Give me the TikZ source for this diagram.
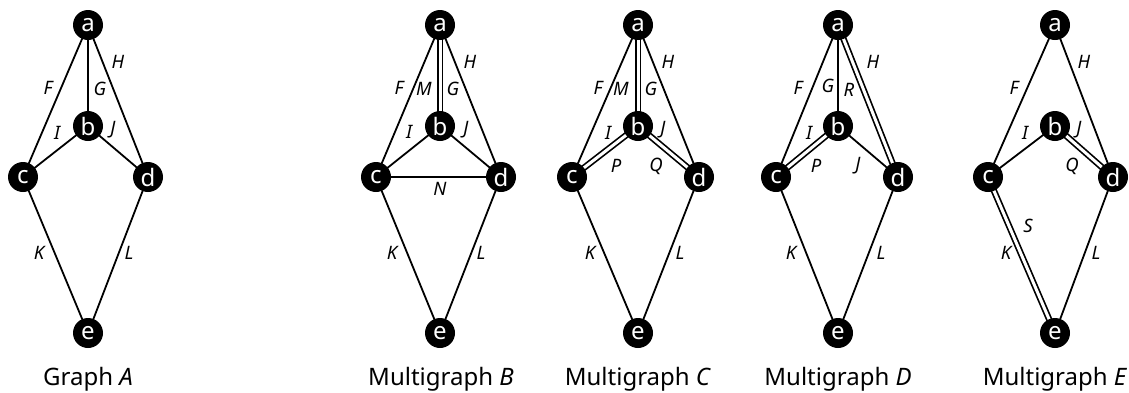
\documentclass[tikz,border=0pt]{standalone}
\usepackage{fontspec}
\setmainfont{Noto Sans}
\pgfdeclarelayer{bg}
\pgfsetlayers{bg,main}
\newcommand{\vnodes}[4]{%
  \begin{scope}[shift={(#2,0)}]
    \node[vtx] (a#1) at (0,25) {a};
    \node[vtx] (b#1) at (0,126) {b};
    \node[vtx] (c#1) at (#3,177) {c};
    \node[vtx] (d#1) at (#4,177) {d};
    \node[vtx] (e#1) at (0,333) {e};
  \end{scope}}
\begin{document}
\begin{tikzpicture}[x=1pt,y=-1pt,
  vtx/.style={circle, fill=black, text=white, minimum size=30pt, inner sep=0pt, font=\fontsize{24}{24}\selectfont},
  lbl/.style={font=\fontsize{18.5}{18.5}\selectfont\itshape, inner sep=0pt},
  captxt/.style={font=\fontsize{24}{24}\selectfont, inner sep=0pt, anchor=base},
  ln/.style={line width=1.8pt},
  dbl/.style={line width=1.7pt, double=white, double distance=3pt}]
\useasboundingbox (0,0) rectangle (1129,392);

% ---------- Graph A ----------
\vnodes{A}{88}{-65}{60}
\begin{pgfonlayer}{bg}
  \draw[ln] (aA.center) -- (cA.center);
  \draw[ln] (aA.center) -- (bA.center);
  \draw[ln] (aA.center) -- (dA.center);
  \draw[ln] (bA.center) -- (cA.center);
  \draw[ln] (bA.center) -- (dA.center);
  \draw[ln] (cA.center) -- (eA.center);
  \draw[ln] (dA.center) -- (eA.center);
\end{pgfonlayer}
\begin{scope}[shift={(88,0)}]
  \node[lbl] (FA) at (-40,88) {F};
  \node[lbl] (GA) at (12,89) {G};
  \node[lbl] (HA) at (30,62) {H};
  \node[lbl] (IA) at (-31,133) {I};
  \node[lbl] (JA) at (25,130) {J};
  \node[lbl] (KA) at (-49,253) {K};
  \node[lbl] (LA) at (41,253) {L};
  \node[captxt] (capA) at (0,385) {Graph \textit{A}};
\end{scope}

% ---------- Multigraph B ----------
\vnodes{B}{440}{-64}{61}
\begin{pgfonlayer}{bg}
  \draw[ln] (aB.center) -- (cB.center);
  \draw[dbl] (aB.center) -- (bB.center);
  \draw[ln] (aB.center) -- (dB.center);
  \draw[ln] (bB.center) -- (cB.center);
  \draw[ln] (bB.center) -- (dB.center);
  \draw[ln] (cB.center) -- (dB.center);
  \draw[ln] (cB.center) -- (eB.center);
  \draw[ln] (dB.center) -- (eB.center);
\end{pgfonlayer}
\begin{scope}[shift={(440,0)}]
  \node[lbl] (FB) at (-41,88) {F};
  \node[lbl] (MB) at (-16,89) {M};
  \node[lbl] (GB) at (13,89) {G};
  \node[lbl] (HB) at (30,62) {H};
  \node[lbl] (IB) at (-31,132) {I};
  \node[lbl] (JB) at (26,130) {J};
  \node[lbl] (NB) at (0,189) {N};
  \node[lbl] (KB) at (-48,253) {K};
  \node[lbl] (LB) at (41,253) {L};
  \node[captxt] (capB) at (1,385) {Multigraph \textit{B}};
\end{scope}

% ---------- Multigraph C ----------
\vnodes{C}{638}{-66}{61}
\begin{pgfonlayer}{bg}
  \draw[ln] (aC.center) -- (cC.center);
  \draw[dbl] (aC.center) -- (bC.center);
  \draw[ln] (aC.center) -- (dC.center);
  \draw[dbl] (bC.center) -- (cC.center);
  \draw[dbl] (bC.center) -- (dC.center);
  \draw[ln] (cC.center) -- (eC.center);
  \draw[ln] (dC.center) -- (eC.center);
\end{pgfonlayer}
\begin{scope}[shift={(638,0)}]
  \node[lbl] (FC) at (-40,88) {F};
  \node[lbl] (MC) at (-17,89) {M};
  \node[lbl] (GC) at (13,89) {G};
  \node[lbl] (HC) at (30,62) {H};
  \node[lbl] (IC) at (-30,133) {I};
  \node[lbl] (JC) at (25,130) {J};
  \node[lbl] (PC) at (-22,166) {P};
  \node[lbl] (QC) at (18,166) {Q};
  \node[lbl] (KC) at (-48,253) {K};
  \node[lbl] (LC) at (42,253) {L};
  \node[captxt] (capC) at (0,385) {Multigraph \textit{C}};
\end{scope}

% ---------- Multigraph D ----------
\vnodes{D}{838}{-62}{60}
\begin{pgfonlayer}{bg}
  \draw[ln] (aD.center) -- (cD.center);
  \draw[ln] (aD.center) -- (bD.center);
  \draw[dbl] (aD.center) -- (dD.center);
  \draw[dbl] (bD.center) -- (cD.center);
  \draw[ln] (bD.center) -- (dD.center);
  \draw[ln] (cD.center) -- (eD.center);
  \draw[ln] (dD.center) -- (eD.center);
\end{pgfonlayer}
\begin{scope}[shift={(838,0)}]
  \node[lbl] (FD) at (-40,88) {F};
  \node[lbl] (GD) at (-10,86) {G};
  \node[lbl] (RD) at (11,90) {R};
  \node[lbl] (HD) at (35,62) {H};
  \node[lbl] (ID) at (-29,133) {I};
  \node[lbl] (PD) at (-22,166) {P};
  \node[lbl] (JD) at (20,166) {J};
  \node[lbl] (KD) at (-47,253) {K};
  \node[lbl] (LD) at (43,253) {L};
  \node[captxt] (capD) at (0,385) {Multigraph \textit{D}};
\end{scope}

% ---------- Multigraph E ----------
\vnodes{E}{1055}{-67}{58}
\begin{pgfonlayer}{bg}
  \draw[ln] (aE.center) -- (cE.center);
  \draw[ln] (aE.center) -- (dE.center);
  \draw[ln] (bE.center) -- (cE.center);
  \draw[dbl] (bE.center) -- (dE.center);
  \draw[dbl] (cE.center) -- (eE.center);
  \draw[ln] (dE.center) -- (eE.center);
\end{pgfonlayer}
\begin{scope}[shift={(1055,0)}]
  \node[lbl] (FE) at (-41,88) {F};
  \node[lbl] (HE) at (29,62) {H};
  \node[lbl] (IE) at (-30,133) {I};
  \node[lbl] (JE) at (24,130) {J};
  \node[lbl] (QE) at (17,166) {Q};
  \node[lbl] (SE) at (-27,226) {S};
  \node[lbl] (KE) at (-49,253) {K};
  \node[lbl] (LE) at (41,253) {L};
  \node[captxt] (capE) at (0,385) {Multigraph \textit{E}};
\end{scope}
\end{tikzpicture}
\end{document}
